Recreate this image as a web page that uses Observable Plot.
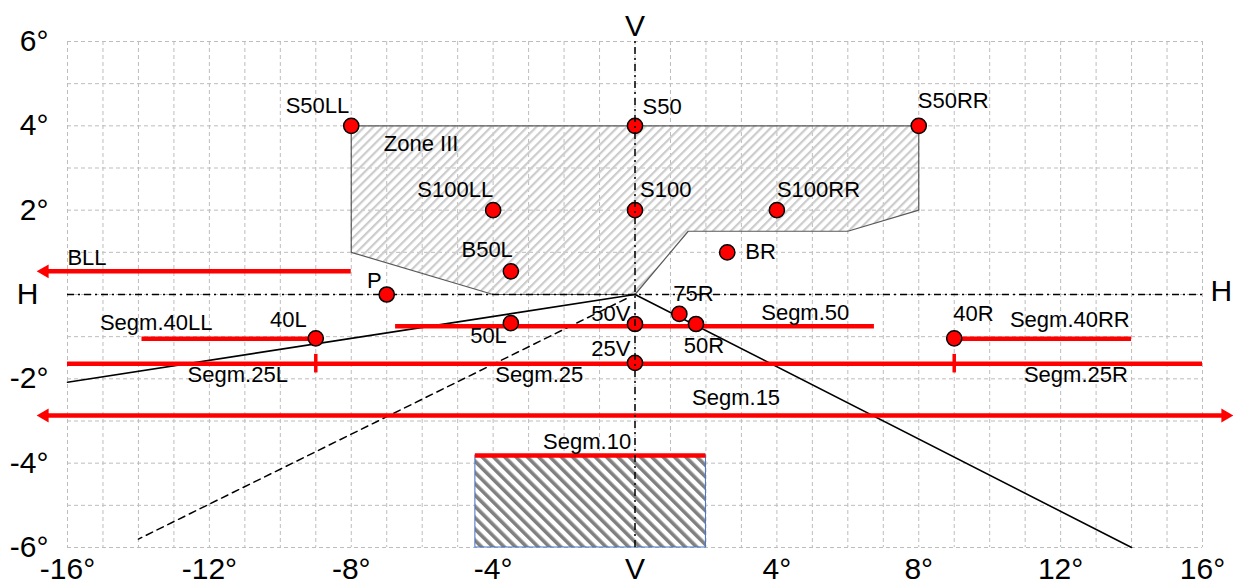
<!DOCTYPE html>
<html><head><meta charset="utf-8">
<script src="https://cdn.jsdelivr.net/npm/d3@7"></script>
<script src="https://cdn.jsdelivr.net/npm/@observablehq/plot@0.6"></script>
<style>html,body{margin:0;padding:0;background:#fff;} #chart svg{display:block;}</style>
</head><body>
<svg width="0" height="0" style="position:absolute">
<defs>
<pattern id="zoneHatch" patternUnits="userSpaceOnUse" width="6.4" height="6.4" patternTransform="rotate(45)"><rect x="0" y="0" width="2.2" height="6.4" fill="#cccccc"/></pattern>
<pattern id="segHatch" patternUnits="userSpaceOnUse" width="8" height="8" patternTransform="rotate(-45)"><rect width="8" height="8" fill="#fff"/><rect x="0" y="0" width="3.6" height="8" fill="#808080"/></pattern>
</defs></svg>
<div id="chart"></div>
<script>
// Measuring points (H = horizontal degrees, V = vertical degrees)
const pointNames = ["S50LL","S50","S50RR","S100LL","S100","S100RR","B50L","BR","P","40L","50L","50V","75R","50R","25V","40R"];
const pointH = [-8, 0, 8, -4, 0, 4, -3.5, 2.6, -7, -9, -3.5, 0, 1.25, 1.72, 0, 9];
const pointV = [4, 4, 4, 2, 2, 2, 0.55, 1, 0, -1.04, -0.68, -0.7, -0.46, -0.7, -1.62, -1.04];

// Zone III polygon
const zoneH = [-8, 8, 8, 6, 1.5, 0, -4, -8];
const zoneV = [4, 4, 2, 1.5, 1.5, 0, 0, 1];

// Red segments
const segNames = ["BLL","Segm.40LL","Segm.40RR","Segm.50","Segm.25","Segm.15","Segm.10"];
const segFrom = [-16.87, -13.9, 9, -6.75, -16, -16.87, -4.5];
const segTo = [-8, -9, 14, 6.75, 16, 16.87, 2];
const segV = [0.55, -1.05, -1.05, -0.75, -1.64, -2.87, -3.82];
const arrowLeft = ["BLL", "Segm.15"];
const arrowRight = ["Segm.15"];
const seg25Ticks = [-9, 9];

// Segm.10 box
const box10H = [-4.5, 2];
const box10V = [-6, -3.82];

// Cut-off lines
const cutLeftH = [0, -16], cutLeftV = [0, -2.08];
const cutRightH = [0, 14], cutRightV = [0, -6];
const dashedH = [-0.25, -14], dashedV = [-0.1, -5.8];

// Annotations
const annText = ["Zone III","BLL","Segm.40LL","Segm.25L","Segm.25","Segm.50","Segm.40RR","Segm.25R","Segm.15","Segm.10"];
const annH = [-6.03, -15.45, -13.5, -11.2, -2.7, 4.8, 12.26, 12.43, 2.85, -1.35];
const annV = [3.58, 0.87, -0.68, -1.91, -1.9, -0.44, -0.6, -1.91, -2.45, -3.49];

// Ticks
const xTicks = [-16, -12, -8, -4, 0, 4, 8, 12, 16];
const yTicks = [6, 4, 2, 0, -2, -4, -6];
const gridH = d3.range(-16, 17);
const gridV = d3.range(-6, 7);

// label placement (style)
const labelPlace = {
  "S50LL": ["end", -2, -19.5], "S50": ["start", 7.5, -19], "S50RR": ["start", -1, -25],
  "S100LL": ["end", 0, -20], "S100": ["start", 5, -20], "S100RR": ["start", 0, -20],
  "B50L": ["end", 2, -21], "BR": ["start", 18, 0], "P": ["end", -5, -14],
  "40L": ["end", -9, -18], "50L": ["end", -4, 13], "50V": ["end", -4.5, -10.5],
  "75R": ["middle", 14, -19.5], "50R": ["middle", 8, 22], "25V": ["end", -4.5, -13.5],
  "40R": ["start", -1, -24]
};

const RED = "#ff0000";
const idx = a => a.map((_, i) => i);
const segIdx = idx(segNames);

const marks = [
  Plot.gridX(gridH, {stroke: "#bdbdbd", strokeOpacity: 1, strokeDasharray: "4,3", strokeWidth: 1}),
  Plot.gridY(gridV, {stroke: "#bdbdbd", strokeOpacity: 1, strokeDasharray: "4,3", strokeWidth: 1}),
  Plot.line(idx(zoneH), {x: i => zoneH[i], y: i => zoneV[i], curve: "linear-closed", fill: "url(#zoneHatch)", stroke: "#595959", strokeWidth: 1.2}),
  Plot.rect([0], {x1: () => box10H[0], x2: () => box10H[1], y1: () => box10V[0], y2: () => box10V[1], fill: "url(#segHatch)", stroke: "#4472c4", strokeWidth: 1}),
  Plot.ruleY([0], {y: d => d, x1: () => -16, x2: () => 16, stroke: "#000", strokeWidth: 1.5, strokeDasharray: "7,4,2,4"}),
  Plot.line(idx(cutLeftH), {x: i => cutLeftH[i], y: i => cutLeftV[i], stroke: "#000", strokeWidth: 1.6}),
  Plot.line(idx(cutRightH), {x: i => cutRightH[i], y: i => cutRightV[i], stroke: "#000", strokeWidth: 1.6}),
  Plot.line(idx(dashedH), {x: i => dashedH[i], y: i => dashedV[i], stroke: "#000", strokeWidth: 1.5, strokeDasharray: "7,5"}),
  // red segments
  Plot.ruleY(segIdx.filter(i => !arrowLeft.includes(segNames[i]) && !arrowRight.includes(segNames[i])),
    {y: i => segV[i], x1: i => segFrom[i], x2: i => segTo[i], stroke: RED, strokeWidth: 4.5}),
  Plot.ruleY(segIdx.filter(i => arrowLeft.includes(segNames[i]) && !arrowRight.includes(segNames[i])),
    {y: i => segV[i], x1: i => segFrom[i], x2: i => segTo[i], stroke: RED, strokeWidth: 4.5, insetLeft: 8}),
  Plot.ruleY(segIdx.filter(i => arrowLeft.includes(segNames[i]) && arrowRight.includes(segNames[i])),
    {y: i => segV[i], x1: i => segFrom[i], x2: i => segTo[i], stroke: RED, strokeWidth: 4.5, insetLeft: 8, insetRight: 8}),
  Plot.ruleX(seg25Ticks, {x: d => d, y1: () => segV[4] - 0.22, y2: () => segV[4] + 0.22, stroke: RED, strokeWidth: 3.5}),
  Plot.dot(segIdx.filter(i => arrowLeft.includes(segNames[i])), {x: i => segFrom[i], y: i => segV[i], symbol: "triangle2", r: 6.6, fill: RED, rotate: -90, dx: 8}),
  Plot.dot(segIdx.filter(i => arrowRight.includes(segNames[i])), {x: i => segTo[i], y: i => segV[i], symbol: "triangle2", r: 6.6, fill: RED, rotate: 90, dx: -8}),
  // points
  Plot.dot(idx(pointNames), {x: i => pointH[i], y: i => pointV[i], r: 7.6, fill: RED, stroke: "#000", strokeWidth: 1.5}),
  Plot.ruleX([0], {x: d => d, y1: () => -6, y2: () => 6, stroke: "#000", strokeWidth: 1.5, strokeDasharray: "7,4,2,4"}),
  // point labels
  ...pointNames.map((n, i) => {
    const [anchor, dx, dy] = labelPlace[n];
    return Plot.text([i], {x: j => pointH[j], y: j => pointV[j], text: j => pointNames[j], textAnchor: anchor, dx, dy, fontSize: 22, fill: "#000"});
  }),
  Plot.text(idx(annText), {x: i => annH[i], y: i => annV[i], text: i => annText[i], fontSize: 22, fill: "#000"}),
  // axes
  Plot.axisX(xTicks, {anchor: "bottom", tickSize: 0, tickPadding: 10, fontSize: 30, tickFormat: d => d === 0 ? "V" : d + "°", label: null}),
  Plot.axisY(yTicks.filter(d => d !== 0), {anchor: "left", tickSize: 0, tickPadding: 19, fontSize: 30, tickFormat: d => d + "°", label: null}),
  Plot.axisY(yTicks.filter(d => d === 0), {anchor: "left", tickSize: 0, tickPadding: 29, fontSize: 30, tickFormat: () => "H", label: null}),
  Plot.text([0], {x: d => d, frameAnchor: "top", dy: -27, text: () => "V", fontSize: 30, fill: "#000"}),
  Plot.text([0], {y: d => d, frameAnchor: "right", dx: 8, dy: -3, textAnchor: "start", text: () => "H", fontSize: 30, fill: "#000"})
];

const chart = Plot.plot({
  width: 1234, height: 585,
  marginLeft: 67, marginRight: 32, marginTop: 41, marginBottom: 38,
  x: {domain: [-16, 16]},
  y: {domain: [-6, 6]},
  style: {fontFamily: "'Liberation Sans', Arial, sans-serif", background: "#fff", overflow: "visible", color: "#000"},
  marks
});
document.getElementById("chart").appendChild(chart);
</script>
</body></html>
